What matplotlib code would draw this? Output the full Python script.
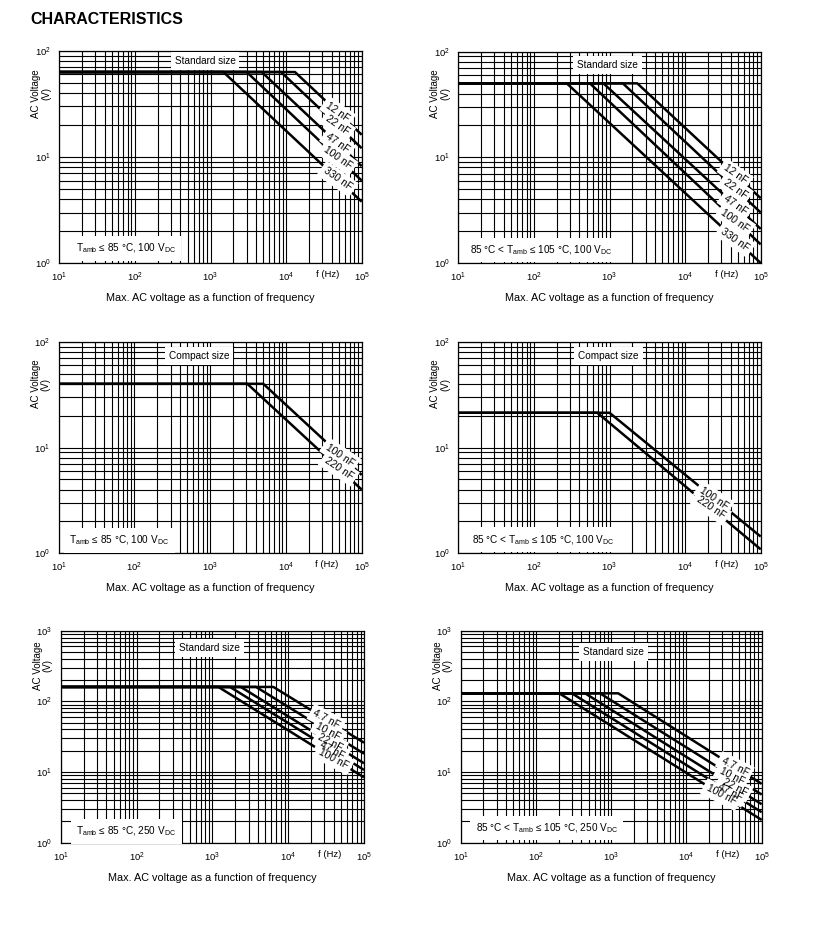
import numpy as np
import matplotlib
matplotlib.use('Agg')
import matplotlib.pyplot as plt
import matplotlib.transforms as mtransforms
from matplotlib.ticker import LogLocator, NullFormatter

plt.rcParams['font.family'] = ['Liberation Sans', 'DejaVu Sans']
plt.rcParams['mathtext.fontset'] = 'custom'
plt.rcParams['mathtext.rm'] = 'Liberation Sans'
plt.rcParams['mathtext.it'] = 'Liberation Sans:italic'
plt.rcParams['mathtext.bf'] = 'Liberation Sans:bold'

# ---------------- data ----------------
# Row 1 left: standard size, Tamb <= 85 C, 100 VDC
tl_caps = ['12 nF', '22 nF', '47 nF', '100 nF', '330 nF']
tl_v_flat = 63
tl_f_break = [13100, 8570, 4760, 3010, 1480]
tl_v_end = [16.2, 12.1, 8.2, 6.0, 3.8]

# Row 1 right: standard size, 85 C < Tamb <= 105 C, 100 VDC
tr_caps = ['12 nF', '22 nF', '47 nF', '100 nF', '330 nF']
tr_v_flat = 50
tr_f_break = [2330, 1500, 830, 550, 272]
tr_v_end = [4.1, 3.0, 2.1, 1.5, 1.0]

# Row 2 left: compact size, Tamb <= 85 C, 100 VDC
ml_caps = ['100 nF', '220 nF']
ml_v_flat = 40
ml_f_break = [5020, 3090]
ml_v_end = [5.5, 4.0]

# Row 2 right: compact size, 85 C < Tamb <= 105 C, 100 VDC
mr_caps = ['100 nF', '220 nF']
mr_v_flat = 21.3
mr_f_break = [1000, 690]
mr_v_end = [1.44, 1.09]

# Row 3 left: standard size, Tamb <= 85 C, 250 VDC
bl_caps = ['4.7 nF', '10 nF', '22 nF', '47 nF', '100 nF']
bl_v_flat = 160
bl_f_break = [6380, 3770, 2370, 1710, 1200]
bl_v_end = [26, 18.2, 13.3, 10.7, 8.4]

# Row 3 right: standard size, 85 C < Tamb <= 105 C, 250 VDC
br_caps = ['4.7 nF', '10 nF', '22 nF', '47 nF', '100 nF']
br_v_flat = 130
br_f_break = [1240, 710, 450, 300, 204]
br_v_end = [6.8, 4.8, 3.5, 2.7, 2.1]

x_range = [10, 1e5]

cond_85_100 = r'T$_{\mathregular{amb}}$ ≤ 85 °C, 100 V$_{\mathregular{DC}}$'
cond_105_100 = r'85 °C < T$_{\mathregular{amb}}$ ≤ 105 °C, 100 V$_{\mathregular{DC}}$'
cond_85_250 = r'T$_{\mathregular{amb}}$ ≤ 85 °C, 250 V$_{\mathregular{DC}}$'
cond_105_250 = r'85 °C < T$_{\mathregular{amb}}$ ≤ 105 °C, 250 V$_{\mathregular{DC}}$'

# ---------------- layout / style ----------------
W, H = 827, 934
fig = plt.figure(figsize=(W / 100, H / 100), dpi=100)
fig.patch.set_facecolor('white')

charts = [
    dict(px=(59.3, 361.7, 50.7, 263.3), ylim=(1, 100), caps=tl_caps, vflat=tl_v_flat,
         fb=tl_f_break, vend=tl_v_end, lab_f=[4.8e4] * 5, rot=-35, ylab_y=0.80,
         size='Standard size', size_xy=(0.482, 0.952), cond=cond_85_100, cond_xy=(0.055, 0.07)),
    dict(px=(458.3, 760.7, 51.5, 263.0), ylim=(1, 100), caps=tr_caps, vflat=tr_v_flat,
         fb=tr_f_break, vend=tr_v_end, lab_f=[4.6e4] * 5, rot=-35, ylab_y=0.80,
         size='Standard size', size_xy=(0.493, 0.938), cond=cond_105_100, cond_xy=(0.04, 0.062)),
    dict(px=(58.7, 361.7, 341.7, 553.3), ylim=(1, 100), caps=ml_caps, vflat=ml_v_flat,
         fb=ml_f_break, vend=ml_v_end, lab_f=[5.2e4, 5.0e4], rot=-34, ylab_y=0.80,
         size='Compact size', size_xy=(0.463, 0.934), cond=cond_85_100, cond_xy=(0.035, 0.06)),
    dict(px=(458.3, 760.7, 341.7, 553.3), ylim=(1, 100), caps=mr_caps, vflat=mr_v_flat,
         fb=mr_f_break, vend=mr_v_end, lab_f=[2.4e4, 2.2e4], rot=-34, ylab_y=0.80,
         size='Compact size', size_xy=(0.496, 0.934), cond=cond_105_100, cond_xy=(0.045, 0.064)),
    dict(px=(60.7, 364.0, 630.7, 842.7), ylim=(1, 1000), caps=bl_caps, vflat=bl_v_flat,
         fb=bl_f_break, vend=bl_v_end, lab_f=[3.2e4, 3.4e4, 3.6e4, 3.8e4, 4.0e4], rot=-28,
         ylab_y=0.836,
         size='Standard size', size_xy=(0.492, 0.917), cond=cond_85_250, cond_xy=(0.052, 0.054)),
    dict(px=(460.7, 761.7, 630.7, 842.7), ylim=(1, 1000), caps=br_caps, vflat=br_v_flat,
         fb=br_f_break, vend=br_v_end, lab_f=[4.4e4, 4.0e4, 4.4e4, 3.8e4, 2.9e4], rot=-27,
         ylab_y=0.836,
         size='Standard size', size_xy=(0.507, 0.898), cond=cond_105_250, cond_xy=(0.05, 0.07)),
]

size_box = dict(boxstyle='square,pad=0.4', facecolor='white', edgecolor='none')
cond_box = dict(boxstyle='square,pad=0.55', facecolor='white', edgecolor='none')
label_box = dict(boxstyle='square,pad=0.35', facecolor='white', edgecolor='none')

for ch in charts:
    l, r, t, b = ch['px']
    ax = fig.add_axes([l / W, 1 - b / H, (r - l) / W, (b - t) / H])
    ax.set_xscale('log')
    ax.set_yscale('log')
    ax.set_xlim(*x_range)
    ax.set_ylim(*ch['ylim'])
    ax.xaxis.set_major_locator(LogLocator(base=10, numticks=10))
    ax.yaxis.set_major_locator(LogLocator(base=10, numticks=10))
    ax.xaxis.set_minor_locator(LogLocator(base=10, subs=np.arange(2, 10), numticks=20))
    ax.yaxis.set_minor_locator(LogLocator(base=10, subs=np.arange(2, 10), numticks=20))
    ax.xaxis.set_minor_formatter(NullFormatter())
    ax.yaxis.set_minor_formatter(NullFormatter())
    ax.set_axisbelow(True)
    ax.grid(True, which='both', color='black', lw=0.8)
    ax.tick_params(which='both', length=0, labelsize=6.8)
    ax.tick_params(axis='x', pad=5.5)
    ax.tick_params(axis='y', pad=6)
    for s in ax.spines.values():
        s.set_linewidth(0.9)
        s.set_color('black')

    for cap, fb, ve, lf in zip(ch['caps'], ch['fb'], ch['vend'], ch['lab_f']):
        xs = [x_range[0], fb, x_range[1]]
        ys = [ch['vflat'], ch['vflat'], ve]
        ax.plot(xs, ys, color='black', lw=1.8, solid_capstyle='butt', zorder=3, clip_on=True)
        yl = 10 ** np.interp(np.log10(lf), np.log10(xs), np.log10(ys))
        # white patch behind the label (drawn below every label text)
        ax.text(lf, yl, cap, fontsize=7.4, rotation=ch['rot'], ha='center', va='center',
                rotation_mode='anchor', zorder=4, color='none', bbox=label_box)
        ax.text(lf, yl, cap, fontsize=7.4, rotation=ch['rot'], ha='center', va='center',
                rotation_mode='anchor', zorder=5, color='black')

    ax.text(ch['size_xy'][0], ch['size_xy'][1], ch['size'], transform=ax.transAxes,
            fontsize=7.2, ha='center', va='center', zorder=6, bbox=size_box)
    ax.text(ch['cond_xy'][0], ch['cond_xy'][1], ch['cond'], transform=ax.transAxes,
            fontsize=7.2, ha='left', va='center', zorder=6, bbox=cond_box)

    trans = mtransforms.blended_transform_factory(ax.transData, ax.transAxes)
    ax.text(3.5e4, -0.0325, 'f (Hz)', transform=trans, fontsize=6.8, ha='center', va='top')
    ax.text(-0.06, ch['ylab_y'], 'AC Voltage\n(V)', transform=ax.transAxes, fontsize=7.0,
            rotation=90, ha='center', va='center', multialignment='center', linespacing=1.0)
    ax.text(0.5, -0.165, 'Max. AC voltage as a function of frequency', transform=ax.transAxes,
            fontsize=7.8, ha='center', va='center')

fig.text(30.7 / W, 1 - 23.5 / H, 'CHARACTERISTICS', fontsize=11.5, fontweight='bold',
         ha='left', va='baseline')

fig.savefig('out.png', dpi=100, facecolor='white')
